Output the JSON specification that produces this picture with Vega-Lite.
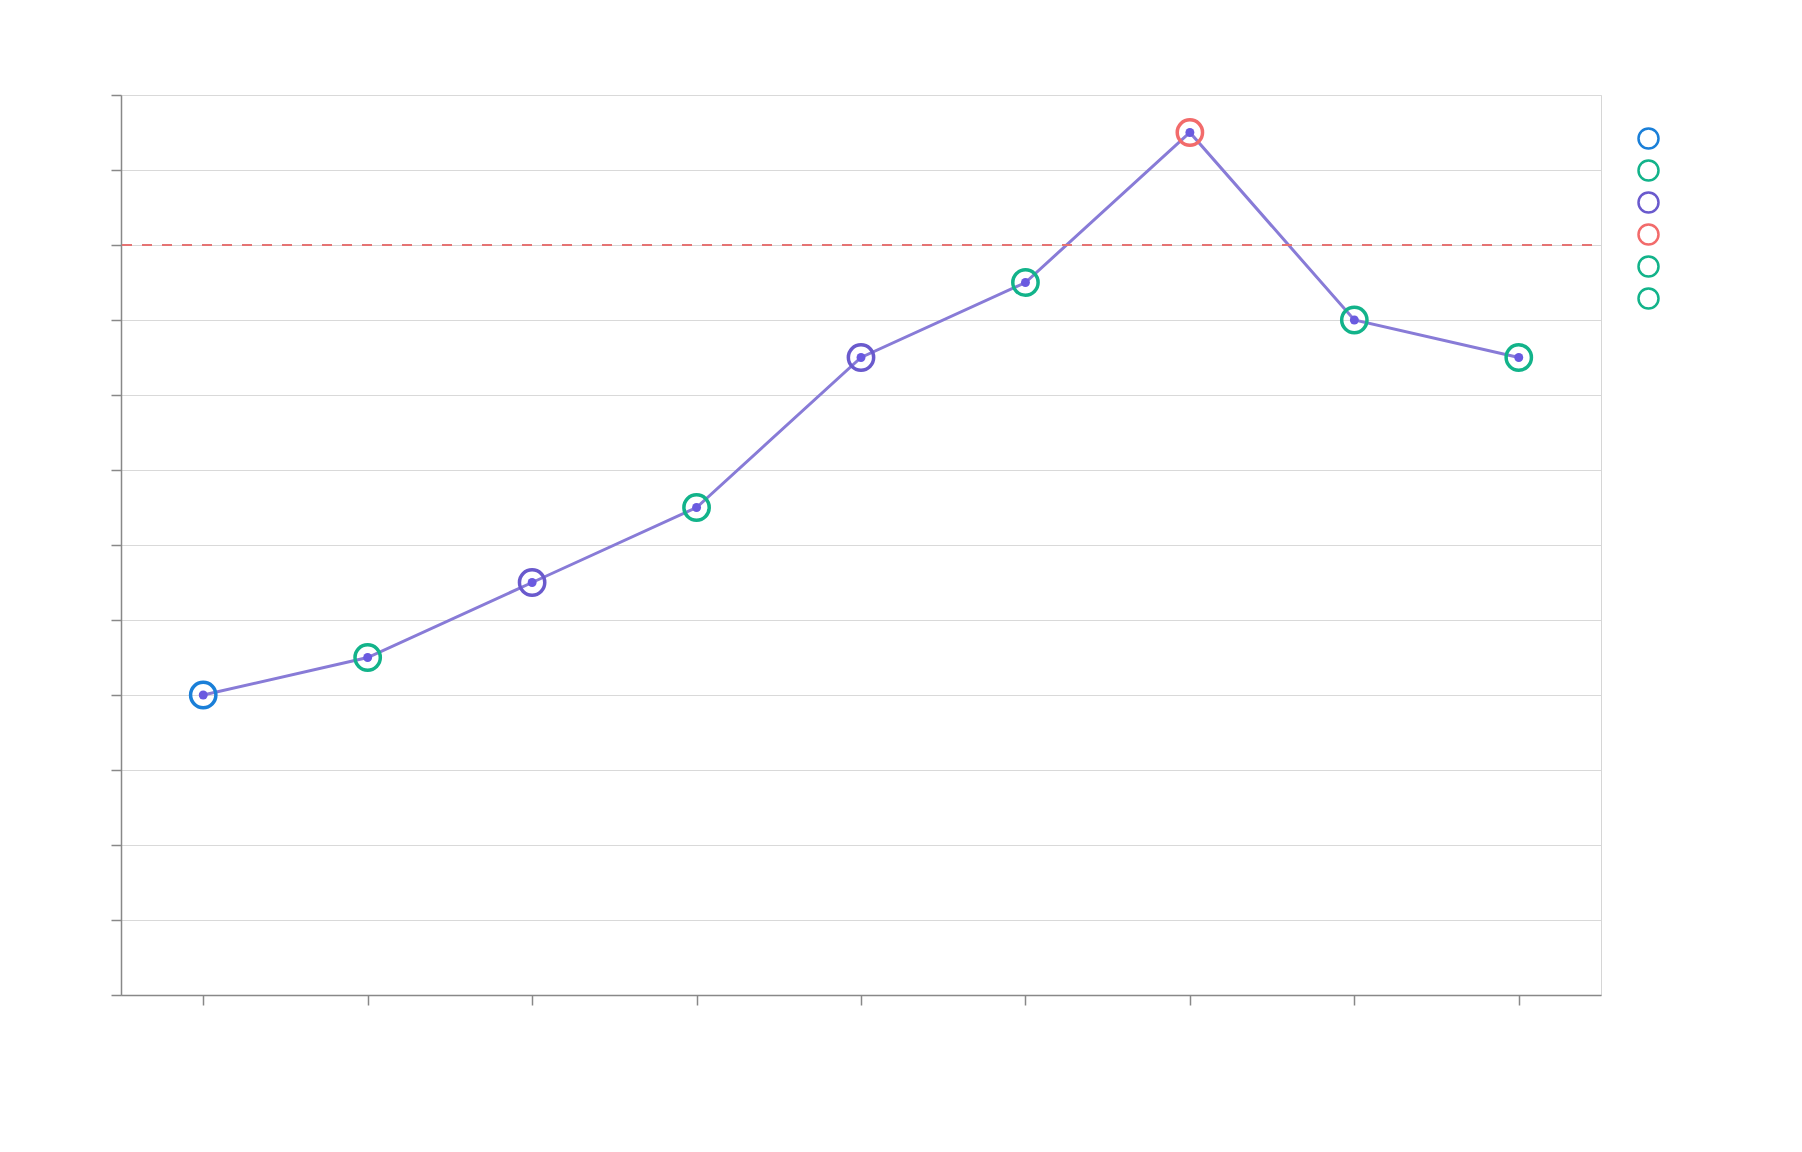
{
  "$schema": "https://vega.github.io/schema/vega-lite/v6.json",
  "autosize": "none",
  "padding": {"left": 121, "top": 95, "right": 201, "bottom": 157},
  "width": 1480,
  "height": 900,
  "background": "white",
  "config": {
    "view": {"stroke": "#d6d6d6", "strokeWidth": 1},
    "axis": {
      "domainColor": "#888888", "domainWidth": 1.5,
      "tickColor": "#888888", "tickWidth": 1.5, "tickSize": 10,
      "gridColor": "#d9d9d9", "gridWidth": 1,
      "labels": false, "title": null
    }
  },
  "data": {
    "values": [
      {"step": "s1", "value": 4.0, "cat": "Start"},
      {"step": "s2", "value": 4.5, "cat": "Up"},
      {"step": "s3", "value": 5.5, "cat": "Jump"},
      {"step": "s4", "value": 6.5, "cat": "Up"},
      {"step": "s5", "value": 8.5, "cat": "Jump"},
      {"step": "s6", "value": 9.5, "cat": "Up"},
      {"step": "s7", "value": 11.5, "cat": "Peak"},
      {"step": "s8", "value": 9.0, "cat": "Down"},
      {"step": "s9", "value": 8.5, "cat": "End"}
    ]
  },
  "encoding": {
    "x": {"field": "step", "type": "nominal", "sort": null,
          "scale": {"type": "point", "padding": 0.5},
          "axis": {"grid": false, "labels": false, "title": null, "labelAngle": 0}},
    "y": {"field": "value", "type": "quantitative",
          "scale": {"domain": [0, 12], "nice": false, "zero": true},
          "axis": {"values": [0,1,2,3,4,5,6,7,8,9,10,11,12], "grid": true, "labels": false, "title": null}}
  },
  "layer": [
    {
      "mark": {"type": "line", "color": "#887bd7", "strokeWidth": 3}
    },
    {
      "mark": {"type": "rule", "color": "#e57373", "strokeWidth": 2, "strokeDash": [10, 10], "strokeDashOffset": 11},
      "data": {"values": [{"t": 10}]},
      "encoding": {
        "x": null,
        "y": {"field": "t", "type": "quantitative"}
      }
    },
    {
      "mark": {"type": "point", "shape": "circle", "filled": false, "size": 640, "strokeWidth": 3.5, "opacity": 1},
      "encoding": {
        "color": {
          "field": "cat", "type": "nominal",
          "scale": {
            "domain": ["Start", "Up", "Jump", "Peak", "Down", "End"],
            "range": ["#1a7fd8", "#12b38a", "#6a5acd", "#f26b6b", "#12b38a", "#12b38a"]
          },
          "legend": {
            "title": null, "labelExpr": "''", "orient": "none",
            "legendX": 1516, "legendY": 32,
            "symbolType": "circle", "symbolSize": 400, "symbolStrokeWidth": 2.5,
            "symbolFillColor": "transparent", "rowPadding": 1, "labelFontSize": 10, "padding": 0
          }
        }
      }
    },
    {
      "mark": {"type": "point", "shape": "circle", "filled": true, "size": 80, "color": "#6a5ae0", "opacity": 1}
    }
  ]
}
